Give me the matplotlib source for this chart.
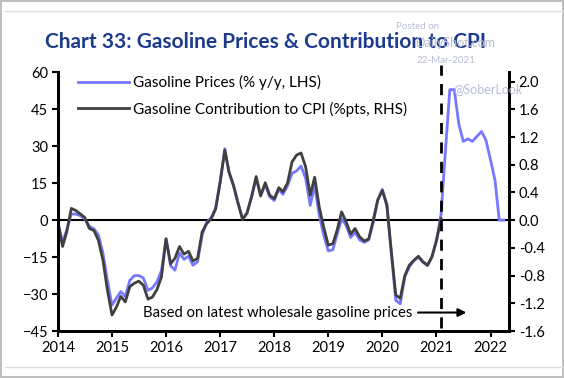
import matplotlib
matplotlib.use("Agg")
import matplotlib.pyplot as plt
import matplotlib.dates as mdates
from matplotlib.lines import Line2D
import pandas as pd
from datetime import datetime

plt.rcParams['font.family'] = ['Lato', 'DejaVu Sans']

# Gasoline prices, % y/y (LHS), monthly from Jan 2014
gas_prices = [
    -1.0, -9.0, -4.0, 2.5, 2.5, 1.8, 0.5, -2.5, -3.5, -6.0, -13.5, -24.5,
    -34.5, -31.5, -29.0, -31.0, -24.5, -22.5, -22.5, -23.5, -28.5, -27.5, -25.0, -20.5,
    -7.5, -18.5, -20.3, -13.3, -15.9, -14.6, -18.3, -16.9, -6.0, -1.0, 1.0, 5.0,
    16.0, 29.0, 19.5, 14.0, 7.0, 0.5, 3.0, 9.5, 17.0, 10.0, 14.5, 9.5,
    8.0, 12.5, 10.5, 14.0, 19.0, 20.0, 22.0, 17.0, 6.0, 14.0, 2.0, -6.0,
    -12.5, -12.0, -6.0, 0.5, -2.0, -7.0, -5.0, -8.0, -9.0, -8.0, -1.0, 8.0,
    12.5, 6.5, -13.0, -32.5, -34.0, -23.0, -19.0, -16.5, -15.0, -17.0, -18.5, -15.0,
    -8.5, 2.5, 27.0, 53.0, 53.0, 39.0, 32.0, 33.0, 32.0, 34.0, 36.0, 32.5,
    24.5, 16.0, 0.0, 0.0,
]
# Gasoline contribution to CPI, %pts (RHS), Jan 2014 - Feb 2021
gas_contrib = [
    -0.04, -0.38, -0.17, 0.17, 0.14, 0.09, 0.04, -0.12, -0.15, -0.29, -0.58, -1.01,
    -1.37, -1.25, -1.10, -1.18, -0.96, -0.91, -0.88, -0.94, -1.14, -1.11, -1.00, -0.82,
    -0.27, -0.63, -0.55, -0.38, -0.49, -0.45, -0.59, -0.55, -0.17, -0.05, 0.02, 0.16,
    0.55, 1.01, 0.70, 0.50, 0.25, 0.01, 0.10, 0.34, 0.63, 0.35, 0.54, 0.36,
    0.31, 0.47, 0.41, 0.54, 0.84, 0.94, 0.97, 0.77, 0.36, 0.62, 0.19, -0.10,
    -0.36, -0.34, -0.15, 0.12, -0.02, -0.20, -0.12, -0.24, -0.30, -0.27, 0.00, 0.29,
    0.43, 0.21, -0.43, -1.08, -1.13, -0.80, -0.65, -0.58, -0.52, -0.60, -0.65, -0.53,
    -0.29, 0.02,
]
dates_prices = pd.date_range("2014-01-01", periods=len(gas_prices), freq="MS")
dates_contrib = pd.date_range("2014-01-01", periods=len(gas_contrib), freq="MS")

lhs_ticks = [-45, -30, -15, 0, 15, 30, 45, 60]
rhs_ticks = [-1.6, -1.2, -0.8, -0.4, 0.0, 0.4, 0.8, 1.2, 1.6, 2.0]

BLUE = "#7777ff"
DARK = "#404040"
NAVY = "#1c3a8e"

fig = plt.figure(figsize=(5.64, 3.78), dpi=100)
ax = fig.add_axes([0.1028, 0.1243, 0.7997, 0.6842])
ax2 = ax.twinx()

l1, = ax.plot(dates_prices, gas_prices, color=BLUE, lw=2, label="Gasoline Prices (% y/y, LHS)")
l2, = ax2.plot(dates_contrib, gas_contrib, color=DARK, lw=2,
               label="Gasoline Contribution to CPI (%pts, RHS)")

ax.set_xlim(datetime(2014, 1, 1), datetime(2022, 5, 6))
ax.set_ylim(-45, 60)
ax2.set_ylim(-1.6, 60 / 28.125)
ax.set_yticks(lhs_ticks)
ax2.set_yticks(rhs_ticks)
ax2.set_yticklabels([f"{v:.1f}" for v in rhs_ticks])
ax.xaxis.set_major_locator(mdates.YearLocator())
ax.xaxis.set_major_formatter(mdates.DateFormatter("%Y"))

ax.axhline(0, color="black", lw=1.5, zorder=1)
ax2.axvline(datetime(2021, 2, 1), ymin=0.01, ymax=1.03, color="black", lw=2,
            ls=(0, (4, 3)), clip_on=False)

for a in (ax, ax2):
    a.spines["top"].set_visible(False)
    for s in ("left", "right", "bottom"):
        a.spines[s].set_linewidth(2)
    a.tick_params(labelsize=10.5, width=1.5, length=4, colors="black", pad=3)

ax2.legend(handles=[l1, l2], loc="upper left", bbox_to_anchor=(0.025, 1.025),
           frameon=False, fontsize=11, handlelength=3.3, handletextpad=0.3,
           labelspacing=0.75, borderaxespad=0.2)

ax.text(datetime(2020, 7, 20), -37.5, "Based on latest wholesale gasoline prices",
        ha="right", va="center", fontsize=10.7)
ax.annotate("", xy=(datetime(2021, 8, 10), -37.5), xytext=(datetime(2020, 8, 10), -37.5),
            arrowprops=dict(arrowstyle="-|>", color="black", lw=1.5, mutation_scale=12))

fig.text(0.47, 0.889, "Chart 33: Gasoline Prices & Contribution to CPI",
         ha="center", va="center", fontsize=15, fontweight="bold", color=NAVY)

# watermarks
wm = "#b8bcd8"
fig.text(0.741, 0.929, "Posted on", fontsize=7, color=wm, ha="center", va="center")
fig.text(0.809, 0.886, "DailyShot.com", fontsize=9, color=wm, ha="center", va="center")
fig.text(0.791, 0.839, "22-Mar-2021", fontsize=7, color=wm, ha="center", va="center")
fig.text(0.865, 0.765, "@SoberLook", fontsize=9, color=wm, ha="center", va="center")

# page frame
fig.patch.set_edgecolor("#c0c0c0")
fig.patch.set_linewidth(1.5)
fig.add_artist(Line2D([0.008, 1], [0.971, 0.971], color="#dddddd", lw=1))
fig.add_artist(Line2D([0.008, 1], [0.029, 0.029], color="#dddddd", lw=1))

fig.savefig("out.png", dpi=100)
